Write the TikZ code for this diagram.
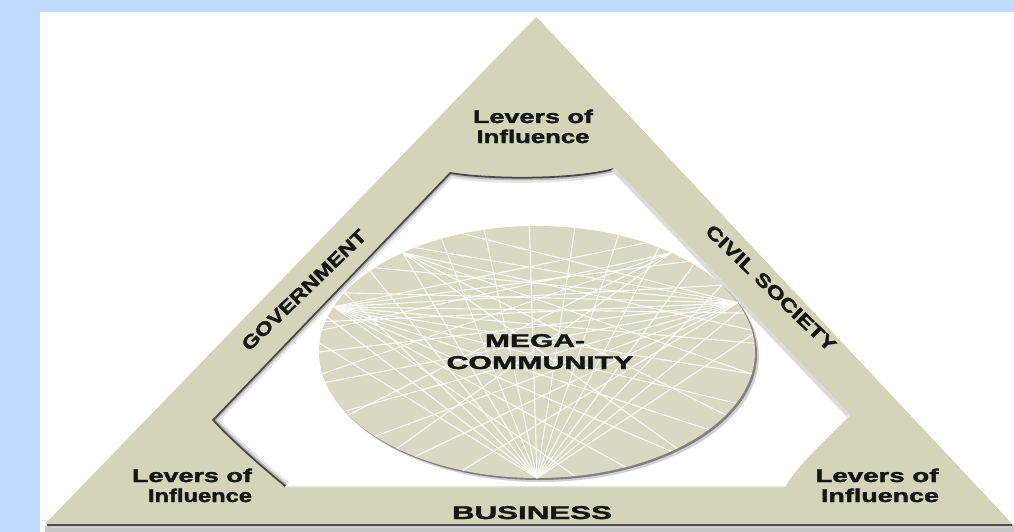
\documentclass[tikz,border=0pt]{standalone}
\usepackage{fontspec}
\setmainfont{Liberation Sans}
\newfontfamily\heavy[FakeBold=1.6]{Liberation Sans Bold}
\usepackage{graphicx}
\definecolor{bgblue}{HTML}{BFDCFE}
\definecolor{cream}{HTML}{D6D4B8}
\definecolor{orb}{HTML}{DAD8C2}
\definecolor{ink}{HTML}{151515}
\newcommand{\wt}[2]{\resizebox{#1pt}{\height}{#2}}
\begin{document}
\begin{tikzpicture}[x=1pt,y=-1pt,
  lab/.style={inner sep=0pt, font=\fontsize{18.5}{18.5}\heavy, text=ink},
  holep/.style={insert path={(450,172) .. controls (490,179) and (575,179) .. (614,168)
     -- (850,415) .. controls (828,438) and (800,462) .. (785,487)
     -- (285,487) .. controls (262,468) and (232,442) .. (212,420) -- cycle}},
  shadeedge/.style={insert path={(614,168) .. controls (575,179) and (490,179) .. (450,172)
     -- (212,420) .. controls (232,442) and (262,468) .. (285,487)}},
  strand/.style={line width=1.1pt, white!88!orb}]
\useasboundingbox (0,0) rectangle (1014,532);
\fill[bgblue] (0,0) rectangle (1014,532);
\fill[white] (40,12) rectangle (1014,532);
% outer triangle with shadow
\fill[black!22] (45,526) rectangle (1014,532);
\fill[black!18] (50,528) -- (540,21) -- (1014,528) -- cycle;
\fill[black!30] (47,526) -- (538,19) -- (1014,526) -- cycle;
\fill[cream] (45,524) -- (536,17) -- (1012,524) -- cycle;
\draw[black!70, line width=2] (47,525) -- (1012,525);
% inner hole with inner shadow
\begin{scope}
  \clip[holep];
  \fill[white, holep];
  \draw[black!10, line width=12, line join=round, shadeedge];
  \draw[black!28, line width=7, line join=round, shadeedge];
  \draw[black!72, line width=3.5, line join=round, shadeedge];
  \draw[black!14, line width=7] (614,168) -- (850,415);
  \draw[black!10, line width=3] (285,487) -- (785,487);
\end{scope}
% mega-community orb
\fill[black!18] (541,356) ellipse [x radius=218, y radius=126];
\fill[black!50] (539,354) ellipse [x radius=218, y radius=126];
\fill[orb] (537,352) ellipse [x radius=218, y radius=126];
\begin{scope}
  \clip (537,352) ellipse [x radius=218, y radius=126];
  \foreach \t in {8,20,...,176}
    \draw[strand] (537,478) -- ({537+218*cos(\t)},{352-126*sin(\t)});
  \foreach \t in {-80,-66,...,70}
    \draw[strand] ({537+218*cos(159)},{352-126*sin(159)}) -- ({537+218*cos(\t)},{352-126*sin(\t)});
  \foreach \t in {110,124,...,262}
    \draw[strand] ({537+218*cos(23)},{352-126*sin(23)}) -- ({537+218*cos(\t)},{352-126*sin(\t)});
  \foreach \t in {-50,-30,-10,10}
    \draw[strand] ({537+218*cos(128)},{352-126*sin(128)}) -- ({537+218*cos(\t)},{352-126*sin(\t)});
  \foreach \t in {170,190,210,230}
    \draw[strand] ({537+218*cos(52)},{352-126*sin(52)}) -- ({537+218*cos(\t)},{352-126*sin(\t)});
\end{scope}
% labels
\node[lab, anchor=base] (lt1) at (533,123) {\wt{120}{Levers of}};
\node[lab, anchor=base] (lt2) at (533,143) {\wt{113}{Influence}};
\node[lab, anchor=base] (ll1) at (192,482) {\wt{120}{Levers of}};
\node[lab, anchor=base] (ll2) at (200,502) {\wt{104}{Influence}};
\node[lab, anchor=base] (lr1) at (877,482) {\wt{123}{Levers of}};
\node[lab, anchor=base] (lr2) at (880,502) {\wt{118}{Influence}};
\node[lab, anchor=base] (bus) at (532,519) {\wt{160}{BUSINESS}};
\node[lab, anchor=base] (mega) at (535,347) {\wt{100}{MEGA-}};
\node[lab, anchor=base] (comm) at (540,369) {\wt{187}{COMMUNITY}};
\node[lab, rotate=44] (gov) at (304,290) {\wt{165}{GOVERNMENT}};
\node[lab, rotate=-44] (civ) at (771,288) {\wt{173}{CIVIL SOCIETY}};
\end{tikzpicture}
\end{document}
